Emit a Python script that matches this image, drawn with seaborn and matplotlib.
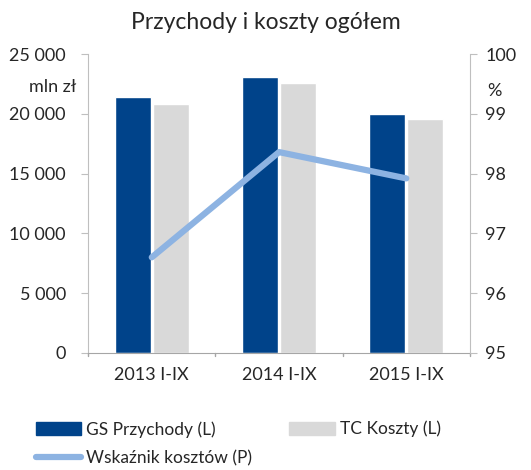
import pandas as pd
import seaborn as sns
import matplotlib.pyplot as plt
from matplotlib.patches import Patch
from matplotlib.lines import Line2D

# data
periods = ['2013 I-IX', '2014 I-IX', '2015 I-IX']
przychody = [21400, 23080, 20000]
koszty = [20820, 22580, 19570]
wskaznik = [96.6, 98.36, 97.92]

df = pd.DataFrame({'okres': periods * 2,
                   'wartosc': przychody + koszty,
                   'seria': ['GS Przychody (L)'] * 3 + ['TC Koszty (L)'] * 3})

sns.set_style('white')
plt.rcParams['font.family'] = ['Lato', 'DejaVu Sans']

navy = '#00438a'
grey = '#d9d9d9'
lightblue = '#8db3e2'
axcol = '#bfbfbf'
txt = '#262626'

fig = plt.figure(figsize=(5.31, 4.70), dpi=100)
ax = fig.add_axes([0.166, 0.249, 0.719, 0.636])

sns.barplot(data=df, x='okres', y='wartosc', hue='seria', palette=[navy, grey],
            saturation=1, width=0.6, gap=0.06, ax=ax, legend=False)
ax.set_ylim(0, 25000)
ax.set_yticks(range(0, 25001, 5000))
ax.set_yticklabels(['0', '5 000', '10 000', '15 000', '20 000', '25 000'])
ax.set_xlabel('')
ax.set_ylabel('')
ax.set_xlim(-0.5, 2.5)

ax2 = ax.twinx()
sns.lineplot(x=[0, 1, 2], y=wskaznik, ax=ax2, color=lightblue, linewidth=4.5)
ax2.set_ylim(95, 100)
ax2.set_yticks([95, 96, 97, 98, 99, 100])
ax2.set_xlim(-0.5, 2.5)

for a in (ax, ax2):
    for s in a.spines.values():
        s.set_color(axcol)
    a.spines['top'].set_visible(False)
    a.tick_params(labelsize=13, colors=txt, length=5, color=axcol)
ax.spines['right'].set_visible(False)
ax2.spines['left'].set_visible(False)
ax.spines['bottom'].set_color('#a6a6a6')
ax2.spines['bottom'].set_visible(False)
ax.tick_params(axis='y', pad=11)
ax2.tick_params(axis='y', pad=6)

# x ticks at category borders, labels in centres
ax.set_xticks([0, 1, 2])
ax.tick_params(axis='x', length=0, pad=10)
for b in [-0.5, 0.5, 1.5, 2.5]:
    ax.plot([b, b], [0, -250], color='#a6a6a6', lw=1, clip_on=False)

ax.text(-0.03, 0.89, 'mln zł', transform=ax.transAxes, ha='right', va='center',
        fontsize=13, color=txt)
ax2.text(1.065, 0.875, '%', transform=ax2.transAxes, ha='center', va='center',
         fontsize=13, color=txt)

fig.suptitle('Przychody i koszty ogółem', y=0.975, fontsize=16.5, color=txt)

leg_kw = dict(frameon=False, fontsize=12.5, handlelength=2.6, handleheight=0.8,
              handletextpad=0.3, labelspacing=0.75, borderaxespad=0)
leg1 = fig.legend([Patch(color=navy),
                   Line2D([0], [0], color=lightblue, lw=4.5, solid_capstyle='round')],
                  ['GS Przychody (L)', 'Wskaźnik kosztów (P)'],
                  loc='lower left', bbox_to_anchor=(0.055, -0.008), **leg_kw)
leg2 = fig.legend([Patch(color=grey)], ['TC Koszty (L)'],
                  loc='lower left', bbox_to_anchor=(0.532, 0.055), **leg_kw)

fig.savefig('out.png', dpi=100)
